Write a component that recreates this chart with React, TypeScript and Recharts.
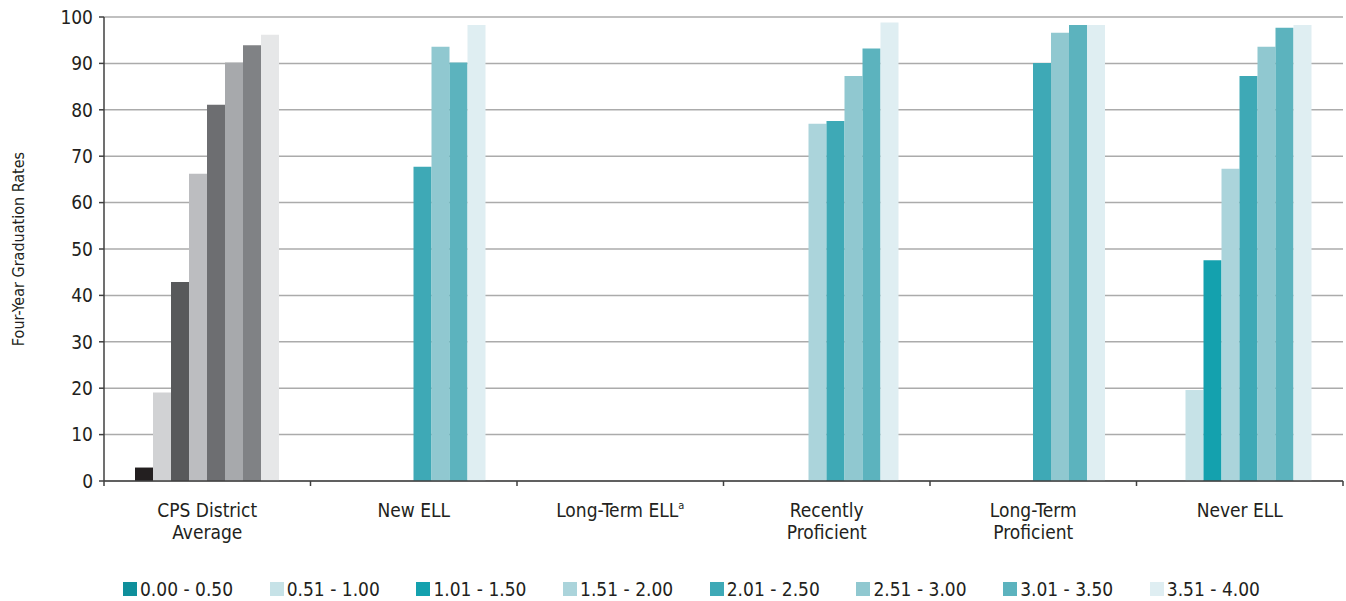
import React from "react";
import { BarChart, Bar, XAxis, YAxis, CartesianGrid, Legend, Cell } from "recharts";

// ---- data ----
const categories = [
  "CPS District Average",
  "New ELL",
  "Long-Term ELL",
  "Recently Proficient",
  "Long-Term Proficient",
  "Never ELL",
];
const xTickLines = [
  ["CPS District", "Average"],
  ["New ELL"],
  ["Long-Term ELL"],
  ["Recently", "Proficient"],
  ["Long-Term", "Proficient"],
  ["Never ELL"],
];
const xTickSup = ["", "", "a", "", "", ""];
const seriesNames = [
  "0.00 - 0.50",
  "0.51 - 1.00",
  "1.01 - 1.50",
  "1.51 - 2.00",
  "2.01 - 2.50",
  "2.51 - 3.00",
  "3.01 - 3.50",
  "3.51 - 4.00",
];
const gpa000_050 = [2.9, null, null, null, null, null];
const gpa051_100 = [19.1, null, null, null, null, 19.6];
const gpa101_150 = [42.9, null, null, null, null, 47.6];
const gpa151_200 = [66.2, null, null, 77.0, null, 67.3];
const gpa201_250 = [81.1, 67.7, null, 77.6, 90.1, 87.3];
const gpa251_300 = [90.2, 93.6, null, 87.3, 96.6, 93.6];
const gpa301_350 = [93.9, 90.2, null, 93.2, 98.3, 97.7];
const gpa351_400 = [96.2, 98.3, null, 98.8, 98.3, 98.3];
const yTicks = [0, 10, 20, 30, 40, 50, 60, 70, 80, 90, 100];
const yAxisTitle = "Four-Year Graduation Rates";

const seriesValues = [
  gpa000_050,
  gpa051_100,
  gpa101_150,
  gpa151_200,
  gpa201_250,
  gpa251_300,
  gpa301_350,
  gpa351_400,
];

// ---- styles ----
const seriesColors = [
  "#0f8f9b",
  "#c6e2e7",
  "#14a1ae",
  "#abd4db",
  "#3ea9b6",
  "#90c8d0",
  "#5cb3be",
  "#dfeef2",
];
const districtGrays = [
  "#231f20",
  "#d1d2d4",
  "#58595b",
  "#bcbdc0",
  "#6d6e71",
  "#a7a9ac",
  "#808285",
  "#e6e7e8",
];
const FONT = '"Liberation Sans Narrow", "DejaVu Sans Condensed", Roboto, "Liberation Sans", sans-serif';
const TEXT = "#231f20";
const W = 1346;
const H = 601;
const M = { top: 17, right: 3, left: 0, bottom: 0 };
const Y_W = 104;
const BAND = (W - M.left - M.right - Y_W) / categories.length;

const data = categories.map((c, i) => {
  const row: any = { category: c };
  seriesValues.forEach((s, k) => {
    row["s" + k] = s[i];
  });
  return row;
});

const XTick = (props: any) => {
  const { x, y, payload } = props;
  const idx = categories.indexOf(payload.value);
  const lines = xTickLines[idx] || [String(payload.value)];
  const sup = xTickSup[idx];
  const isLast = idx === categories.length - 1;
  return (
    <g>
      <line x1={x - BAND / 2} y1={y} x2={x - BAND / 2} y2={y + 5} stroke="#404040" strokeWidth={1.5} />
      {isLast && (
        <line x1={x + BAND / 2} y1={y} x2={x + BAND / 2} y2={y + 5} stroke="#404040" strokeWidth={1.5} />
      )}
      <text x={x} y={y} textAnchor="middle" fontFamily={FONT} fontSize={19} fill={TEXT}>
        {lines.map((ln, j) => (
          <tspan key={j} x={x} y={y + 36 + j * 22}>
            {ln}
            {sup && j === lines.length - 1 ? (
              <tspan fontSize={11} dy={-8}>
                {sup}
              </tspan>
            ) : null}
          </tspan>
        ))}
      </text>
    </g>
  );
};

const LegendContent = () => (
  <div
    style={{
      display: "flex",
      alignItems: "center",
      height: 24,
      paddingLeft: 123,
      fontFamily: FONT,
      fontSize: 19,
      color: TEXT,
      boxSizing: "border-box",
    }}
  >
    {seriesNames.map((n, i) => (
      <div key={n} style={{ width: 146.7, display: "flex", alignItems: "center", flex: "none" }}>
        <span
          style={{ width: 14, height: 14, background: seriesColors[i], marginRight: 3, display: "inline-block" }}
        />
        <span>{n}</span>
      </div>
    ))}
  </div>
);

export default function App() {
  return (
    <div style={{ position: "absolute", left: 0, top: 0, width: W, height: H, background: "#fff" }}>
      <BarChart width={W} height={H} data={data} margin={M} barGap={0} barSize={18}>
        <CartesianGrid vertical={false} stroke="#ababab" strokeWidth={1.5} />
        <XAxis
          dataKey="category"
          height={96}
          interval={0}
          tickSize={0}
          tickMargin={0}
          tick={<XTick />}
          axisLine={{ stroke: "#404040", strokeWidth: 1.5 }}
        />
        <YAxis
          width={Y_W}
          domain={[0, 100]}
          ticks={yTicks}
          interval={0}
          tickSize={5}
          tickMargin={6}
          tick={{ fontFamily: FONT, fontSize: 19, fill: TEXT }}
          axisLine={{ stroke: "#404040", strokeWidth: 1.5 }}
          tickLine={{ stroke: "#404040", strokeWidth: 1.5 }}
          label={{
            value: yAxisTitle,
            angle: -90,
            position: "insideLeft",
            offset: 18,
            style: { textAnchor: "middle", fontFamily: FONT, fontSize: 16, fill: TEXT },
          }}
        />
        <Legend
          verticalAlign="bottom"
          height={24}
          content={<LegendContent />}
          wrapperStyle={{ left: 0, width: W, bottom: 0 }}
        />
        {seriesNames.map((n, k) => (
          <Bar key={n} dataKey={"s" + k} name={n} fill={seriesColors[k]} isAnimationActive={false}>
            {data.map((d, i) => (
              <Cell key={i} fill={i === 0 ? districtGrays[k] : seriesColors[k]} />
            ))}
          </Bar>
        ))}
      </BarChart>
    </div>
  );
}
